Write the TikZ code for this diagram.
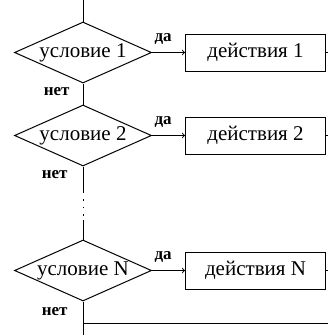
\documentclass[tikz,border=0pt]{standalone}
\usepackage{fontspec}
\setmainfont{Liberation Serif}
\usetikzlibrary{positioning,shapes.geometric}
\tikzset{
  font=\fontsize{21}{22}\selectfont
}

\begin{document}
\begin{tikzpicture}[x=1pt,y=-1pt,line width=1pt,
  cond/.style={diamond,draw,inner sep=0pt,aspect=2.25,minimum width=137pt,minimum height=61pt},
  act/.style={rectangle,draw,minimum width=140pt,minimum height=37pt,inner sep=0pt},
  lbl/.style={inner sep=1pt,font=\fontsize{17}{18}\selectfont\bfseries}]
\useasboundingbox (0,0) rectangle (328,335);
\coordinate (start) at (83,0);
\coordinate (edge) at (328,0);
\coordinate (bot) at (83,335);
\node[cond] (c1) at (83,52.5) {условие 1};
\node[act] (a1) [right=33pt of c1] {действия 1};
\node[cond] (c2) [below=21pt of c1] {условие 2};
\node[act] (a2) [right=33pt of c2] {действия 2};
\node[cond] (cN) [below=73pt of c2] {условие N};
\node[act] (aN) [right=33pt of cN] {действия N};
\coordinate[below=25pt of c2.south] (d1);
\coordinate[above=20pt of cN.north] (d2);
\coordinate[below=21.5pt of cN.south] (join);
% labels
\node[lbl] (y1) [above right=7pt and 1pt of c1.east] {да};
\node[lbl] (y2) [above right=7pt and 1pt of c2.east] {да};
\node[lbl] (yN) [above right=7pt and 1pt of cN.east] {да};
\node[lbl] (n1) [below left=3pt and 12pt of c1.south] {нет};
\node[lbl] (n2) [below left=3pt and 14pt of c2.south] {нет};
\node[lbl] (nN) [below left=5pt and 14pt of cN.south] {нет};
% connectors
\draw (start) -- (c1);
\draw[->] (c1) -- (a1);
\draw[->] (c2) -- (a2);
\draw[->] (cN) -- (aN);
\draw (c1) -- (c2);
\draw (c2) -- (d1);
\draw[dash pattern=on 1.5pt off 6pt] (d1) -- (d2);
\draw (d2) -- (cN);
\draw (cN.south) -- (bot);
\draw (join) -- (join -| edge);
\foreach \a in {a1,a2,aN}
  \draw (\a.east) -- (\a.east -| edge);
\end{tikzpicture}
\end{document}
